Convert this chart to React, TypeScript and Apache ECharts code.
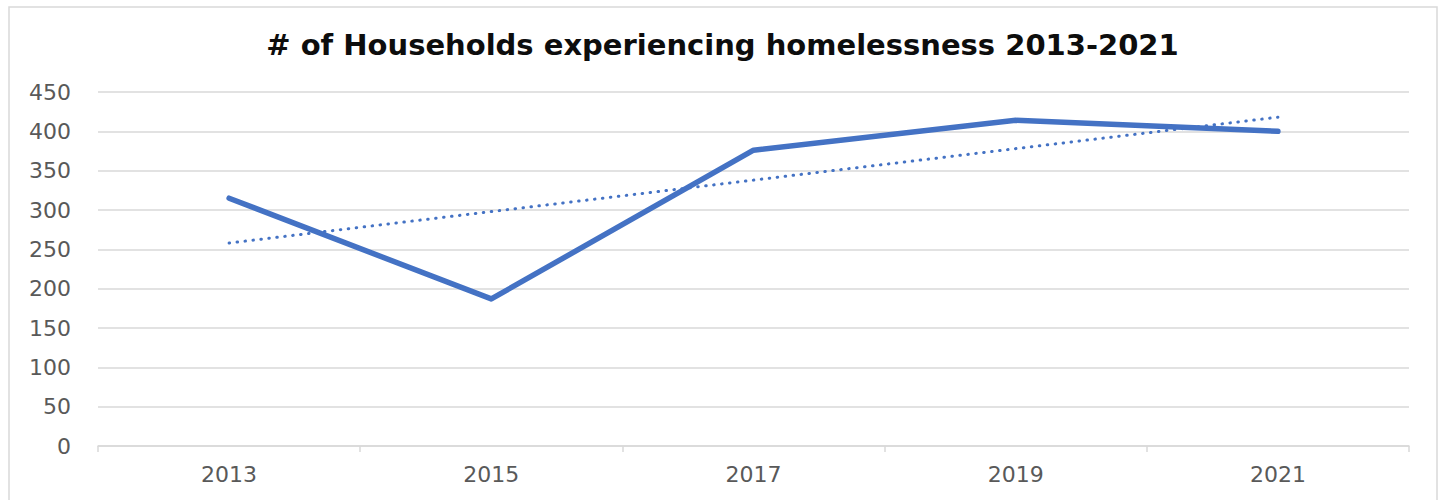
import React, { useEffect, useRef } from "react";
import * as echarts from "echarts";

const categories = ["2013", "2015", "2017", "2019", "2021"];
const households = [315, 187, 376, 414, 400];
const trend = [258, null, null, null, 418];
const yTicks = { min: 0, max: 450, interval: 50 };
const titleText = "# of Households experiencing homelessness 2013-2021";

export default function App() {
  const ref = useRef<HTMLDivElement>(null);
  useEffect(() => {
    document.body.style.margin = "0";
    const chart = echarts.init(ref.current!, null, { renderer: "svg" });
    chart.setOption({
      animation: false,
      backgroundColor: "#ffffff",
      title: {
        text: titleText,
        left: "center",
        top: 25,
        textStyle: {
          fontFamily: "DejaVu Sans",
          fontWeight: "bold",
          fontSize: 29,
          color: "#0d0d0d",
        },
      },
      graphic: [
        {
          type: "rect",
          shape: { x: 9, y: 7, width: 1428, height: 520 },
          style: { fill: "none", stroke: "#d9d9d9", lineWidth: 1.5 },
          silent: true,
        },
      ],
      grid: { left: 98, right: 36, top: 92, bottom: 54 },
      xAxis: {
        type: "category",
        data: categories,
        boundaryGap: true,
        axisLine: { show: true, lineStyle: { color: "#d9d9d9", width: 1.5 } },
        axisTick: { show: true, length: 6, lineStyle: { color: "#d9d9d9", width: 1.5 } },
        axisLabel: {
          fontFamily: "DejaVu Sans",
          fontSize: 22,
          color: "#595959",
          margin: 17,
        },
        splitLine: { show: false },
      },
      yAxis: {
        type: "value",
        min: yTicks.min,
        max: yTicks.max,
        interval: yTicks.interval,
        axisLine: { show: false },
        axisTick: { show: false },
        axisLabel: {
          fontFamily: "DejaVu Sans",
          fontSize: 22,
          color: "#595959",
          margin: 27,
        },
        splitLine: { lineStyle: { color: "#d9d9d9", width: 1.5 } },
      },
      series: [
        {
          type: "line",
          name: "Households",
          data: households,
          symbol: "none",
          lineStyle: { color: "#4472C4", width: 5.5, cap: "round", join: "round" },
          z: 3,
        },
        {
          type: "line",
          name: "Trend",
          data: trend,
          connectNulls: true,
          symbol: "none",
          lineStyle: { color: "#4472C4", width: 3, type: [0.5, 7.5], cap: "round" },
          z: 2,
        },
      ],
    });
    return () => chart.dispose();
  }, []);
  return <div ref={ref} style={{ width: 1445, height: 500 }} />;
}
